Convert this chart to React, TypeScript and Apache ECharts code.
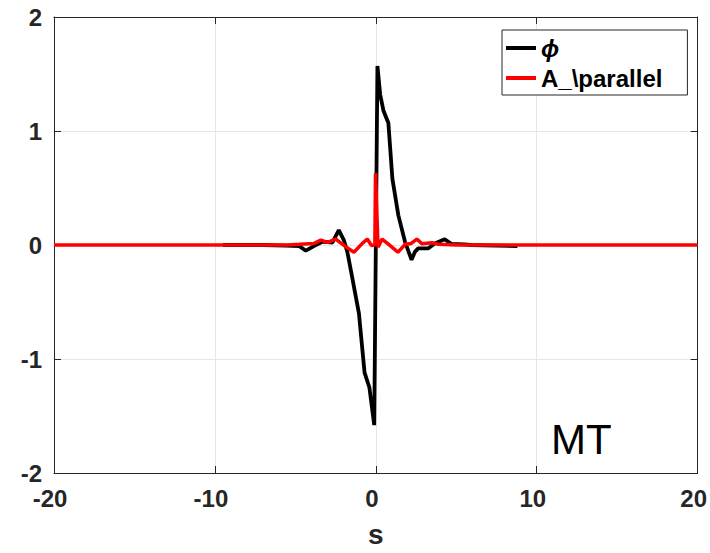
import React, { useEffect, useRef } from "react";
import * as echarts from "echarts";

// s positions and values of phi (black)
const phiS = [-9.5, -7.0, -5.6, -4.75, -4.35, -3.85, -3.3, -2.7, -2.3, -1.98, -1.77, -1.46, -1.05, -0.7, -0.4, -0.1, 0.1, 0.27, 0.47, 0.78, 1.03, 1.4, 1.81, 2.22, 2.43, 2.63, 3.25, 3.66, 4.28, 4.69, 5.5, 5.9, 7.5, 8.8];
const phiV = [0.0, 0.0, -0.005, -0.01, -0.05, -0.01, 0.03, 0.02, 0.13, 0.04, -0.06, -0.29, -0.6, -1.12, -1.25, -1.58, 1.57, 1.32, 1.18, 1.07, 0.58, 0.26, 0.03, -0.13, -0.06, -0.03, -0.03, 0.014, 0.05, 0.01, 0.005, 0.0, -0.005, -0.01];

// s positions and values of A_parallel (red)
const aparS = [-20, -5.5, -4.75, -3.83, -3.42, -3.0, -2.49, -1.88, -1.36, -0.84, -0.53, -0.27, -0.06, -0.02, 0.14, 0.39, 0.76, 1.37, 1.83, 2.2, 2.55, 2.86, 3.48, 3.89, 5.0, 20];
const aparV = [0, 0, 0.006, 0.014, 0.043, 0.023, 0.052, -0.014, -0.063, 0.014, 0.052, -0.005, 0.0, 0.63, -0.02, 0.052, 0.01, -0.063, 0.006, 0.014, 0.052, 0.01, 0.02, 0.006, 0.0, 0];

const xTicks = { min: -20, max: 20, interval: 10 };
const yTicks = { min: -2, max: 2, interval: 1 };

const seriesNames = ["\u03D5", "A_\\parallel"];
const axisLabelX = "s";
const annotation = "MT";

const FONT = '"Liberation Sans", Arial, Helvetica, sans-serif';
const AX = "#262626";

export default function App() {
  const ref = useRef<HTMLDivElement>(null);
  useEffect(() => {
    if (!ref.current) return;
    const chart = echarts.init(ref.current, undefined, { renderer: "svg" });
    const phiData = phiS.map((s, i) => [s, phiV[i]]);
    const aparData = aparS.map((s, i) => [s, aparV[i]]);
    const axisLine = { show: true, onZero: false, lineStyle: { color: AX, width: 1 } };
    const tick = { show: true, inside: true, length: 7, lineStyle: { color: AX, width: 1 } };
    chart.setOption({
      animation: false,
      backgroundColor: "#fff",
      textStyle: { fontFamily: FONT },
      grid: { left: 54, right: 9, top: 17, bottom: 70, containLabel: false },
      xAxis: [
        {
          type: "value", ...xTicks, position: "bottom",
          axisLine, axisTick: tick,
          axisLabel: { color: AX, fontSize: 24, fontWeight: "bold", fontFamily: FONT, margin: 13, padding: [0, 8, 0, 0] },
          splitLine: { show: true, lineStyle: { color: "#e6e6e6", width: 1 } },
          name: axisLabelX, nameLocation: "middle", nameGap: 47,
          nameTextStyle: { color: AX, fontSize: 28, fontWeight: "bold", fontFamily: FONT },
        },
        {
          type: "value", ...xTicks, position: "top",
          axisLine, axisTick: tick, axisLabel: { show: false }, splitLine: { show: false },
        },
      ],
      yAxis: [
        {
          type: "value", ...yTicks, position: "left",
          axisLine, axisTick: tick,
          axisLabel: { color: AX, fontSize: 24, fontWeight: "bold", fontFamily: FONT, margin: 12 },
          splitLine: { show: true, lineStyle: { color: "#e6e6e6", width: 1 } },
        },
        {
          type: "value", ...yTicks, position: "right",
          axisLine, axisTick: tick, axisLabel: { show: false }, splitLine: { show: false },
        },
      ],
      legend: {
        orient: "vertical",
        left: 502,
        top: 30,
        padding: [6, 25, 5, 4],
        itemGap: 6,
        itemWidth: 30,
        itemHeight: 4,
        icon: "rect",
        backgroundColor: "#fff",
        borderColor: AX,
        borderWidth: 1,
        borderRadius: 0,
        textStyle: { fontSize: 24, fontWeight: "bold", color: "#000", fontFamily: FONT, lineHeight: 24 },
        data: [
          { name: seriesNames[0], textStyle: { fontStyle: "italic" } },
          { name: seriesNames[1] },
        ],
      },
      series: [
        {
          name: seriesNames[0], type: "line", data: phiData, showSymbol: false, symbol: "none",
          lineStyle: { color: "#000", width: 3.8 }, itemStyle: { color: "#000" }, z: 2,
        },
        {
          name: seriesNames[1], type: "line", data: aparData, showSymbol: false, symbol: "none",
          lineStyle: { color: "#ff0000", width: 3.5 }, itemStyle: { color: "#ff0000" }, z: 3,
        },
      ],
      graphic: [
        {
          type: "text", left: 551, top: 418,
          style: { text: annotation, fontSize: 42, fontFamily: FONT, fill: "#000" },
        },
      ],
    });
    return () => chart.dispose();
  }, []);
  return <div ref={ref} style={{ position: "fixed", left: 0, top: 0, width: 710, height: 553 }} />;
}
